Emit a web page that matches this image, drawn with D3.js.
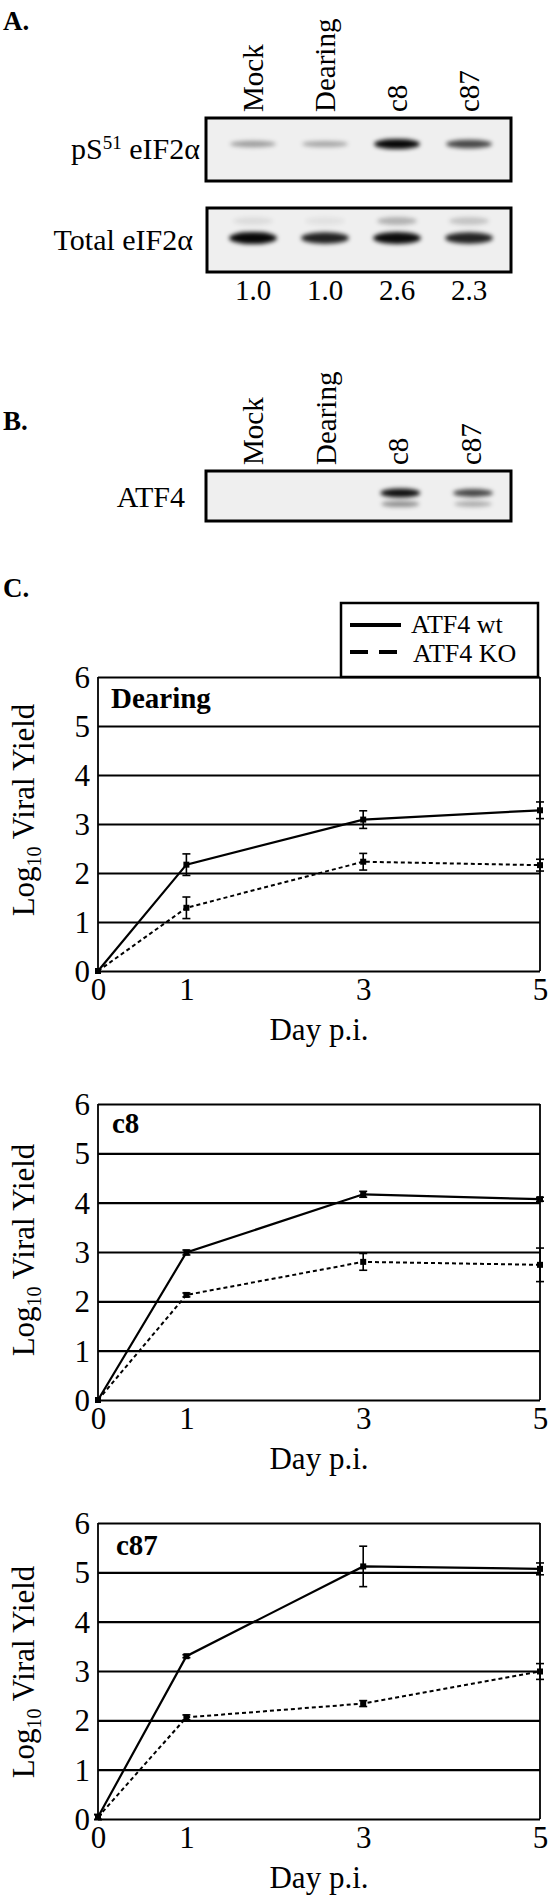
<!DOCTYPE html>
<html>
<head>
<meta charset="utf-8">
<script src="https://cdn.jsdelivr.net/npm/d3@7"></script>
<style>
  html, body { margin: 0; padding: 0; background: #fff; }
  svg { display: block; }
</style>
</head>
<body>
<script>
// ---------------- DATA ----------------
const lanes = ["Mock", "Dearing", "c8", "c87"];
const pS51Band = [0.34, 0.30, 0.97, 0.70];          // relative band intensity, pS51 eIF2α
const totalBand = [0.97, 0.86, 0.95, 0.85];         // total eIF2α main band
const totalUpperBand = [0.08, 0.06, 0.26, 0.18];    // faint upper band
const ratioLabels = ["1.0", "1.0", "2.6", "2.3"];
const atf4Upper = [0, 0, 0.93, 0.70];
const atf4Lower = [0, 0, 0.40, 0.28];

const days = [0, 1, 3, 5];
const yTicks = [0, 1, 2, 3, 4, 5, 6];
const xTicks = [0, 1, 3, 5];
const seriesNames = ["ATF4 wt", "ATF4 KO"];
const panelNames = ["Dearing", "c8", "c87"];

const dearingWT = [0, 2.17, 3.09, 3.28];
const dearingWTErr = [0, 0.22, 0.18, 0.17];
const dearingKO = [0, 1.29, 2.23, 2.16];
const dearingKOErr = [0, 0.22, 0.17, 0.12];

const c8WT = [0, 2.99, 4.17, 4.07];
const c8WTErr = [0, 0.05, 0.06, 0.04];
const c8KO = [0, 2.13, 2.80, 2.74];
const c8KOErr = [0, 0.04, 0.17, 0.34];

const c87WT = [0.04, 3.30, 5.12, 5.07];
const c87WTErr = [0.05, 0.03, 0.41, 0.12];
const c87KO = [0.04, 2.06, 2.34, 2.99];
const c87KOErr = [0.05, 0.05, 0.06, 0.16];

// ---------------- SETUP ----------------
const FONT = "'Liberation Serif','Times New Roman',Times,serif";
const svg = d3.select("body").append("svg")
  .attr("width", 550).attr("height", 1901)
  .style("font-family", FONT);

svg.append("rect").attr("width", 550).attr("height", 1901).attr("fill", "#fff");

const defs = svg.append("defs");
defs.append("filter").attr("id", "blur").attr("x", "-50%").attr("y", "-100%").attr("width", "200%").attr("height", "300%")
  .append("feGaussianBlur").attr("stdDeviation", 2);

// Panel letters
[["A.", 30], ["B.", 430], ["C.", 597]].forEach(([t, y]) => {
  svg.append("text").attr("x", 3).attr("y", y).attr("font-size", 27).attr("font-weight", "bold").text(t);
});

// ---------------- PANEL A ----------------
const xLaneA = d3.scalePoint().domain(lanes).range([253, 469]);

function laneLabels(scale, bottom) {
  svg.append("g").selectAll("text").data(lanes).join("text")
    .attr("transform", d => `translate(${scale(d)},${bottom}) rotate(-90)`)
    .attr("dy", "0.34em")
    .attr("font-size", 29)
    .text(d => d);
}
laneLabels(xLaneA, 112);

function blotBox(x, y, w, h) {
  svg.append("rect").attr("x", x).attr("y", y).attr("width", w).attr("height", h)
    .attr("fill", "#efefef").attr("stroke", "#000").attr("stroke-width", 3);
}
blotBox(206, 118, 305, 63);
blotBox(207, 208, 304, 64);

function bands(scale, values, cy, rx, ryBase, ryGain, dx = 0) {
  svg.append("g").attr("filter", "url(#blur)").selectAll("ellipse")
    .data(lanes.map((l, i) => ({ l, v: values[i] })).filter(d => d.v > 0))
    .join("ellipse")
    .attr("cx", d => scale(d.l) + dx)
    .attr("cy", cy)
    .attr("rx", rx)
    .attr("ry", d => ryBase + ryGain * d.v)
    .attr("fill", "#000")
    .attr("fill-opacity", d => d.v);
}
bands(xLaneA, pS51Band, 144, 23, 2.2, 3.0);
bands(xLaneA, totalUpperBand, 221, 20, 4, 0);
bands(xLaneA, totalBand, 238, 24, 3, 3.2);

// row labels
const lbl1 = svg.append("text").attr("x", 200).attr("y", 159).attr("text-anchor", "end").attr("font-size", 30);
lbl1.append("tspan").text("pS");
lbl1.append("tspan").attr("font-size", 19).attr("dy", -10).text("51");
lbl1.append("tspan").attr("dy", 10).text(" eIF2α");
svg.append("text").attr("x", 193).attr("y", 250).attr("text-anchor", "end").attr("font-size", 30).text("Total eIF2α");

svg.append("g").selectAll("text").data(lanes).join("text")
  .attr("x", d => xLaneA(d)).attr("y", 300).attr("text-anchor", "middle").attr("font-size", 29)
  .text((d, i) => ratioLabels[i]);

// ---------------- PANEL B ----------------
const xLaneB = d3.scalePoint().domain(lanes).range([253, 471]);
laneLabels(xLaneB, 465);
blotBox(206, 471, 305, 50);
bands(xLaneB, atf4Upper, 493, 20, 2.2, 2.4, 2);
bands(xLaneB, atf4Lower, 504, 19, 2.5, 1.5, 2);
svg.append("text").attr("x", 185).attr("y", 507).attr("text-anchor", "end").attr("font-size", 30).text("ATF4");

// ---------------- LEGEND ----------------
const leg = svg.append("g");
leg.append("rect").attr("x", 341).attr("y", 603).attr("width", 197).attr("height", 74)
  .attr("fill", "#fff").attr("stroke", "#000").attr("stroke-width", 2.5);
leg.append("line").attr("x1", 350).attr("x2", 401).attr("y1", 625).attr("y2", 625)
  .attr("stroke", "#000").attr("stroke-width", 4);
leg.append("line").attr("x1", 350).attr("x2", 398).attr("y1", 652).attr("y2", 652)
  .attr("stroke", "#000").attr("stroke-width", 4).attr("stroke-dasharray", "18 11");
leg.append("text").attr("x", 411).attr("y", 633).attr("font-size", 26).text(seriesNames[0]);
leg.append("text").attr("x", 413).attr("y", 662).attr("font-size", 26).text(seriesNames[1]);

// ---------------- CHARTS ----------------
const X0 = 98, X1 = 540;
const layouts = [
  { top: 677, bottom: 971, titleY: 708, titleX: 111, yLabelCY: 810 },
  { top: 1104, bottom: 1400, titleY: 1133, titleX: 112, yLabelCY: 1250 },
  { top: 1523, bottom: 1819, titleY: 1555, titleX: 116, yLabelCY: 1672 }
];
const chartData = [
  [[dearingWT, dearingWTErr], [dearingKO, dearingKOErr]],
  [[c8WT, c8WTErr], [c8KO, c8KOErr]],
  [[c87WT, c87WTErr], [c87KO, c87KOErr]]
];

layouts.forEach((L, ci) => {
  const g = svg.append("g");
  const x = d3.scaleLinear().domain([0, 5]).range([X0, X1]);
  const y = d3.scaleLinear().domain([0, 6]).range([L.bottom, L.top]);

  // gridlines + y labels
  const ya = g.append("g").attr("transform", `translate(${X0},0)`)
    .call(d3.axisLeft(y).tickValues(yTicks).tickSize(-(X1 - X0)).tickPadding(8).tickFormat(d3.format("d")));
  ya.select(".domain").remove();
  ya.attr("font-family", FONT).attr("font-size", 31);
  ya.selectAll(".tick line").attr("stroke", "#000").attr("stroke-width", 2.2);
  ya.selectAll(".tick text").attr("fill", "#000").attr("dy", "0.34em");

  // vertical borders
  [X0, X1].forEach(xx => {
    g.append("line").attr("x1", xx).attr("x2", xx).attr("y1", L.top).attr("y2", L.bottom)
      .attr("stroke", "#000").attr("stroke-width", 1.8);
  });

  // x labels
  const xa = g.append("g").attr("transform", `translate(0,${L.bottom})`)
    .call(d3.axisBottom(x).tickValues(xTicks).tickSize(0).tickFormat(d3.format("d")));
  xa.select(".domain").remove();
  xa.attr("font-family", FONT).attr("font-size", 31);
  xa.selectAll(".tick text").attr("fill", "#000").attr("y", 29).attr("dy", 0);

  // titles
  g.append("text").attr("x", L.titleX).attr("y", L.titleY).attr("font-size", 29).attr("font-weight", "bold")
    .text(panelNames[ci]);
  g.append("text").attr("x", (X0 + X1) / 2).attr("y", L.bottom + 69).attr("text-anchor", "middle")
    .attr("font-size", 31).text("Day p.i.");
  const yl = g.append("text").attr("transform", `translate(34,${L.yLabelCY}) rotate(-90)`)
    .attr("text-anchor", "middle").attr("font-size", 31);
  yl.append("tspan").text("Log");
  yl.append("tspan").attr("font-size", 20).attr("dy", 7).text("10");
  yl.append("tspan").attr("dy", -7).text(" Viral Yield");

  // series
  chartData[ci].forEach(([vals, errs], si) => {
    const pts = days.map((d, i) => ({ d, v: vals[i], e: errs[i] }));
    g.append("path").datum(pts)
      .attr("d", d3.line().x(p => x(p.d)).y(p => y(p.v)))
      .attr("fill", "none").attr("stroke", "#000")
      .attr("stroke-width", si === 0 ? 2.2 : 2)
      .attr("stroke-dasharray", si === 0 ? null : "4 3");
    const eb = g.append("g").attr("stroke", "#000").attr("stroke-width", 1.6);
    pts.filter(p => p.e > 0).forEach(p => {
      eb.append("line").attr("x1", x(p.d)).attr("x2", x(p.d)).attr("y1", y(p.v - p.e)).attr("y2", y(p.v + p.e));
      [p.v - p.e, p.v + p.e].forEach(v => {
        eb.append("line").attr("x1", x(p.d) - 4).attr("x2", x(p.d) + 4).attr("y1", y(v)).attr("y2", y(v));
      });
    });
    g.append("g").selectAll("rect").data(pts).join("rect")
      .attr("x", p => x(p.d) - 3).attr("y", p => y(p.v) - 3)
      .attr("width", 6).attr("height", 6).attr("fill", "#000");
  });
});
</script>
</body>
</html>
